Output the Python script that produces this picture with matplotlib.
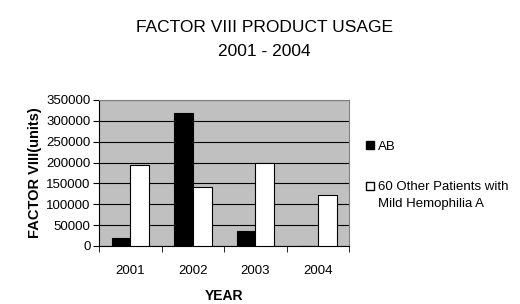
import numpy as np
import matplotlib.pyplot as plt
from matplotlib.lines import Line2D

plt.rcParams['font.family'] = ['Liberation Sans', 'DejaVu Sans']

years = ["2001", "2002", "2003", "2004"]
ab = [18000, 318000, 37000, 0]
other = [194000, 142000, 198000, 122000]
labels = ["AB", "60 Other Patients with\nMild Hemophilia A"]

fig = plt.figure(figsize=(5.2, 3.04), dpi=100)
ax = fig.add_axes([99 / 520, 1 - 246 / 304, 250 / 520, 146 / 304])
ax.set_facecolor("#c0c0c0")

x = np.arange(len(years))
w = 0.3
ax.bar(x - w / 2, ab, w, color="black", edgecolor="black", linewidth=0.8, zorder=3)
ax.bar(x + w / 2, other, w, color="white", edgecolor="black", linewidth=0.8, zorder=3)

ax.set_xlim(-0.5, len(years) - 0.5)
ax.set_ylim(0, 350000)
ax.set_yticks(np.arange(0, 350001, 50000))
ax.yaxis.grid(True, color="black", linewidth=0.8, zorder=1)
ax.set_xticks(x)
ax.set_xticklabels(years)
ax.set_xticks(np.arange(-0.5, len(years)), minor=True)
ax.tick_params(axis="x", which="major", length=0, pad=14, labelsize=9.5)
ax.tick_params(axis="x", which="minor", length=4, direction="out")
ax.tick_params(axis="y", length=4, direction="out", labelsize=9.5, pad=2)
for s in ["top", "right"]:
    ax.spines[s].set_color("#808080")
for s in ["left", "bottom"]:
    ax.spines[s].set_color("black")

ax.set_xlabel("YEAR", fontsize=10, fontweight="bold", labelpad=8)
ax.set_ylabel("FACTOR VIII(units)", fontsize=10.5, fontweight="bold", labelpad=3)

fig.text(0.508, 1 - 40 / 304, "FACTOR VIII PRODUCT USAGE\n2001 - 2004",
         ha="center", va="center", fontsize=12.5, linespacing=1.75)

# legend: square sits on the first line of each label
handles = [
    Line2D([], [], marker="s", linestyle="", markerfacecolor="black",
           markeredgecolor="black", markersize=6),
    Line2D([], [], marker="s", linestyle="", markerfacecolor="white",
           markeredgecolor="black", markersize=6),
]
first_lines = [lab.split("\n")[0] for lab in labels]
fig.legend(handles, first_lines, loc="upper left",
           bbox_to_anchor=(358 / 520, 1 - 135 / 304),
           frameon=False, fontsize=9.5, handletextpad=0.1, handlelength=1.0,
           labelspacing=2.15, borderaxespad=0)
fig.text(378 / 520, 1 - 204 / 304, labels[1].split("\n")[1],
         ha="left", va="center", fontsize=9.5)

fig.savefig("out.png", dpi=100)
